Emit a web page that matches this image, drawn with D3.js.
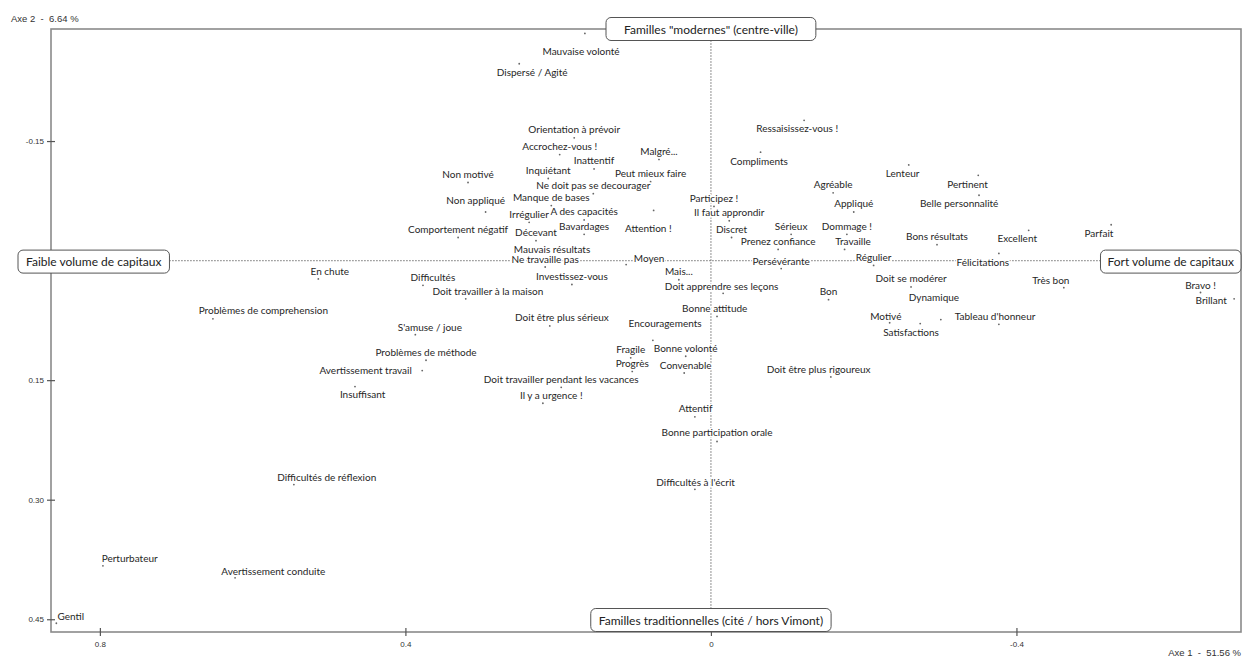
<!DOCTYPE html>
<html>
<head>
<meta charset="utf-8">
<script src="https://cdn.jsdelivr.net/npm/d3@7"></script>
<style>
  html, body { margin: 0; padding: 0; background: #fff; }
  svg { display: block; }
  .pre { white-space: pre; }
</style>
</head>
<body>
<svg id="chart" width="1242" height="657"></svg>
<script>
// ---------- DATA ----------
const terms = [
  "Mauvaise volonté","Dispersé / Agité","Orientation à prévoir","Accrochez-vous !","Inattentif",
  "Malgré...","Inquiétant","Peut mieux faire","Non motivé","Ne doit pas se decourager",
  "Non appliqué","Manque de bases","A des capacités","Irrégulier","Comportement négatif",
  "Décevant","Bavardages","Attention !","Mauvais résultats","Ne travaille pas",
  "Moyen","Mais...","Investissez-vous","Difficultés","Doit travailler à la maison",
  "En chute","Problèmes de comprehension","Doit être plus sérieux","S'amuse / joue","Encouragements",
  "Bonne attitude","Doit apprendre ses leçons","Problèmes de méthode","Fragile","Bonne volonté",
  "Progrès","Convenable","Avertissement travail","Doit travailler pendant les vacances","Insuffisant",
  "Il y a urgence !","Attentif","Bonne participation orale","Difficultés de réflexion","Difficultés à l'écrit",
  "Perturbateur","Avertissement conduite","Gentil","Ressaisissez-vous !","Compliments",
  "Lenteur","Agréable","Pertinent","Participez !","Appliqué",
  "Belle personnalité","Il faut approndir","Discret","Sérieux","Dommage !",
  "Prenez confiance","Travaille","Bons résultats","Excellent","Parfait",
  "Persévérante","Régulier","Félicitations","Doit se modérer","Très bon",
  "Bon","Dynamique","Bravo !","Brillant","Motivé",
  "Tableau d'honneur","Satisfactions","Doit être plus rigoureux"
];
// point coordinates (Axe 1, Axe 2)
const axis1 = [
  0.165,0.251,0.179,0.198,0.153, 0.068,0.213,0.079,0.318,0.154,
  0.295,0.209,0.166,0.238,0.331, 0.229,0.166,0.075,0.208,0.217,
  0.111,0.042,0.182,0.377,0.321, 0.514,0.652,0.211,0.387,0.076,
  -0.008,-0.016,0.373,0.105,0.033, 0.103,0.035,0.378,0.196,0.466,
  0.220,0.021,-0.008,0.546,0.021, 0.796,0.623,0.857,-0.122,-0.065,
  -0.259,-0.160,-0.350,-0.004,-0.187, -0.351,-0.024,-0.027,-0.105,-0.178,
  -0.088,-0.175,-0.296,-0.416,-0.524, -0.092,-0.213,-0.377,-0.262,-0.462,
  -0.154,-0.301,-0.641,-0.685,-0.234, -0.377,-0.274,-0.157
];
const axis2 = [
  -0.285,-0.247,-0.154,-0.133,-0.115, -0.127,-0.103,-0.099,-0.098,-0.084,
  -0.061,-0.069,-0.051,-0.048,-0.029, -0.025,-0.033,-0.063,-0.005,0.008,
  0.005,0.024,0.030,0.031,0.048, 0.023,0.073,0.082,0.093,0.100,
  0.070,0.041,0.125,0.122,0.120, 0.139,0.141,0.138,0.159,0.158,
  0.179,0.196,0.227,0.281,0.287, 0.383,0.398,0.455,-0.176,-0.136,
  -0.120,-0.085,-0.107,-0.068,-0.061, -0.082,-0.050,-0.029,-0.033,-0.033,
  -0.014,-0.014,-0.020,-0.038,-0.045, 0.010,0.006,-0.009,0.033,0.034,
  0.049,0.074,0.040,0.048,0.078, 0.080,0.079,0.146
];
// label anchor coordinates (Axe 1, Axe 2)
const labelAxis1 = [
  0.170,0.234,0.179,0.198,0.153, 0.068,0.213,0.079,0.318,0.154,
  0.308,0.209,0.166,0.238,0.331, 0.229,0.166,0.082,0.208,0.217,
  0.081,0.042,0.182,0.364,0.292, 0.499,0.586,0.195,0.368,0.060,
  -0.005,-0.014,0.373,0.105,0.033, 0.103,0.033,0.452,0.196,0.456,
  0.209,0.020,-0.008,0.503,0.020, 0.761,0.573,0.838,-0.113,-0.063,
  -0.251,-0.160,-0.336,-0.004,-0.187, -0.325,-0.024,-0.027,-0.105,-0.178,
  -0.088,-0.186,-0.296,-0.401,-0.508, -0.092,-0.213,-0.356,-0.262,-0.445,
  -0.154,-0.292,-0.641,-0.655,-0.229, -0.372,-0.262,-0.141
];
const labelAxis2 = [
  -0.262,-0.236,-0.164,-0.143,-0.125, -0.137,-0.113,-0.109,-0.108,-0.094,
  -0.075,-0.079,-0.061,-0.058,-0.039, -0.035,-0.043,-0.040,-0.014,-0.001,
  -0.003,0.014,0.020,0.021,0.039, 0.014,0.063,0.072,0.084,0.079,
  0.060,0.033,0.115,0.112,0.110, 0.129,0.132,0.138,0.149,0.168,
  0.169,0.186,0.216,0.272,0.279, 0.374,0.390,0.447,-0.166,-0.124,
  -0.109,-0.095,-0.095,-0.078,-0.072, -0.072,-0.060,-0.039,-0.043,-0.043,
  -0.024,-0.024,-0.030,-0.028,-0.034, 0.001,-0.004,0.003,0.023,0.025,
  0.039,0.046,0.031,0.050,0.070, 0.070,0.090,0.137
];
const xTickValues = [0.8, 0.4, 0, -0.4];
const xTickLabels = ["0.8", "0.4", "0", "-0.4"];
const yTickValues = [-0.15, 0.15, 0.30, 0.45];
const yTickLabels = ["-0.15", "0.15", "0.30", "0.45"];
const axisTitleX = "Axe 1  -  51.56 %";
const axisTitleY = "Axe 2  -  6.64 %";
const poleTop = "Familles \"modernes\" (centre-ville)";
const poleBottom = "Familles traditionnelles (cité / hors Vimont)";
const poleLeft = "Faible volume de capitaux";
const poleRight = "Fort volume de capitaux";

// ---------- LAYOUT ----------
const svg = d3.select("#chart");
const L = 51, R = 1241, T = 29, B = 632;
const x = d3.scaleLinear().domain([0.864, -0.694]).range([L, R]);
const y = d3.scaleLinear().domain([-0.2906, 0.466]).range([T, B]);

const labelFont = "Lato, 'Open Sans', sans-serif";
const axisFont = "'Liberation Sans', Arial, sans-serif";

// frame
svg.append("rect")
  .attr("x", L).attr("y", T).attr("width", R - L).attr("height", B - T)
  .attr("fill", "none").attr("stroke", "#8a8a8a").attr("stroke-width", 1.6);

// x axis
const xAxis = svg.append("g").attr("transform", `translate(0,${B})`)
  .call(d3.axisBottom(x).tickValues(xTickValues)
    .tickFormat((d, i) => xTickLabels[i]).tickSize(4).tickPadding(5));
xAxis.select(".domain").remove();
xAxis.selectAll(".tick line").attr("y1", -4).attr("y2", 4).attr("stroke", "#555").attr("stroke-width", 1.2);
xAxis.selectAll(".tick text").attr("font-family", axisFont).attr("font-size", 8).attr("fill", "#333");

// y axis
const yAxis = svg.append("g").attr("transform", `translate(${L},0)`)
  .call(d3.axisLeft(y).tickValues(yTickValues)
    .tickFormat((d, i) => yTickLabels[i]).tickSize(4).tickPadding(3));
yAxis.select(".domain").remove();
yAxis.selectAll(".tick line").attr("x1", -4).attr("x2", 4).attr("stroke", "#555").attr("stroke-width", 1.2);
yAxis.selectAll(".tick text").attr("font-family", axisFont).attr("font-size", 8).attr("fill", "#333");

// axis titles
svg.append("text").attr("class", "pre").attr("x", 11).attr("y", 22)
  .attr("font-family", axisFont).attr("font-size", 9.5).attr("fill", "#333")
  .text(axisTitleY);
svg.append("text").attr("class", "pre").attr("x", 1241).attr("y", 656).attr("text-anchor", "end")
  .attr("font-family", axisFont).attr("font-size", 9.5).attr("fill", "#333")
  .text(axisTitleX);

// pole boxes
function poleBox(txt, cx, cy, anchor, pad) {
  const g = svg.append("g");
  const t = g.append("text").attr("font-family", labelFont).attr("font-size", 12)
    .attr("fill", "#222").attr("dominant-baseline", "central").text(txt);
  const w = t.node().getComputedTextLength();
  const bw = w + 2 * pad, bh = 23;
  let bx;
  if (anchor === "start") bx = cx; else if (anchor === "end") bx = cx - bw; else bx = cx - bw / 2;
  g.insert("rect", "text").attr("x", bx).attr("y", cy - bh / 2).attr("width", bw).attr("height", bh)
    .attr("rx", 5).attr("fill", "#fff").attr("stroke", "#555").attr("stroke-width", 1);
  t.attr("x", bx + pad).attr("y", cy);
  return { x0: bx, x1: bx + bw, y0: cy - bh / 2, y1: cy + bh / 2, g };
}

const gLines = svg.append("g");
const topBox = poleBox(poleTop, x(0), T, "middle", 18);
const botBox = poleBox(poleBottom, x(0), B - 12, "middle", 8);
const leftBox = poleBox(poleLeft, 18, y(0) + 1, "start", 8);
const rightBox = poleBox(poleRight, R, y(0) + 1, "end", 7);

gLines.append("line")
  .attr("x1", leftBox.x1).attr("x2", rightBox.x0).attr("y1", y(0)).attr("y2", y(0))
  .attr("stroke", "#555").attr("stroke-width", 1.3).attr("stroke-dasharray", "1,2");
gLines.append("line")
  .attr("x1", x(0)).attr("x2", x(0)).attr("y1", topBox.y1).attr("y2", botBox.y0)
  .attr("stroke", "#555").attr("stroke-width", 1.3).attr("stroke-dasharray", "1,2");

// points
const data = terms.map((t, i) => ({ t, a1: axis1[i], a2: axis2[i], l1: labelAxis1[i], l2: labelAxis2[i] }));
svg.append("g").selectAll("circle").data(data).join("circle")
  .attr("cx", d => x(d.a1)).attr("cy", d => y(d.a2)).attr("r", 0.9).attr("fill", "#666");

// labels
svg.append("g").selectAll("text").data(data).join("text")
  .attr("x", d => x(d.l1)).attr("y", d => y(d.l2))
  .attr("text-anchor", "middle").attr("dy", "0.35em")
  .attr("font-family", labelFont).attr("font-size", 10).attr("fill", "#262626")
  .attr("stroke", "#fff").attr("stroke-width", 3).attr("paint-order", "stroke")
  .text(d => d.t);

// boxes on top
[topBox, botBox, leftBox, rightBox].forEach(b => b.g.raise());
</script>
</body>
</html>
